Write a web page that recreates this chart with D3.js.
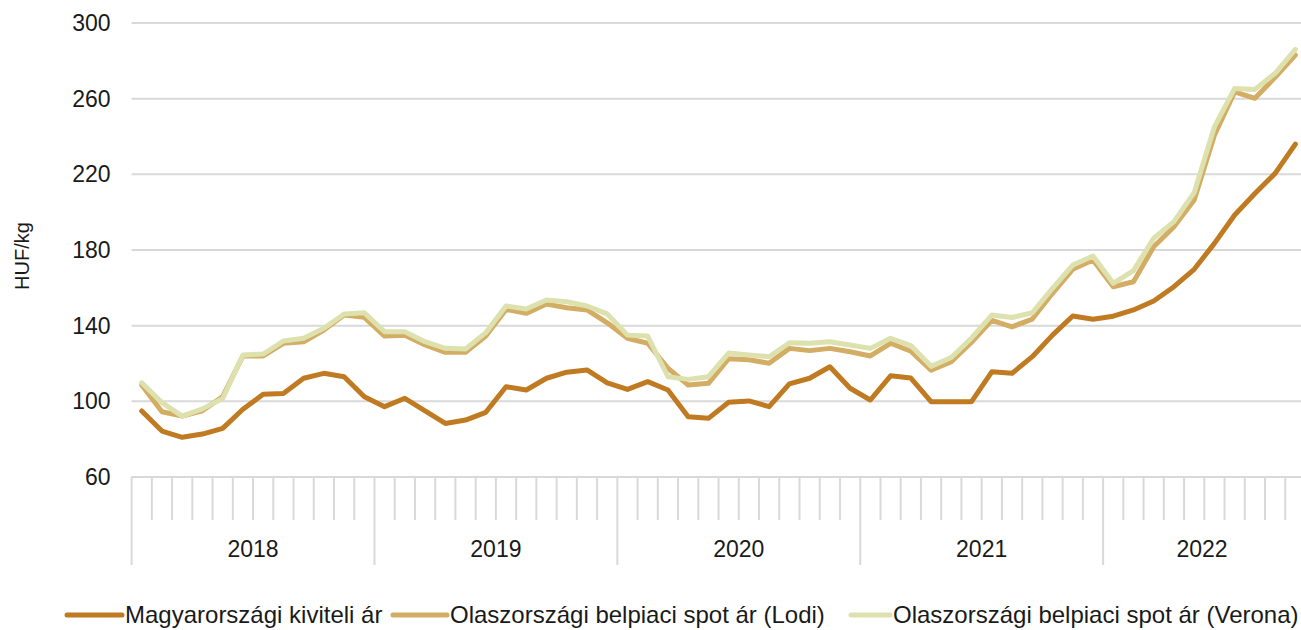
<!DOCTYPE html>
<html>
<head>
<meta charset="utf-8">
<script src="https://cdn.jsdelivr.net/npm/d3@7"></script>
<style>
  body { margin: 0; background: #fff; }
  text { font-family: "Liberation Sans", Arial, sans-serif; fill: #1a1a1a; }
</style>
</head>
<body>
<div class="svg-wrap"></div>
<script>
// chart data
let years = [2018, 2019, 2020, 2021, 2022];
let monthsInYear = [12, 12, 12, 12, 10];
let yTicks = [60, 100, 140, 180, 220, 260, 300];
let seriesNames = ["Magyarországi kiviteli ár", "Olaszországi belpiaci spot ár (Lodi)", "Olaszországi belpiaci spot ár (Verona)"];
let colors = ["#c07a22", "#d3ad63", "#dde1ae"];

let huExport = [94.9, 84.3, 81, 82.7, 85.7, 95.8, 103.7, 104.2, 112.2, 114.8, 113, 102.4,
  97.2, 101.6, 95, 88.3, 90.1, 94.2, 107.7, 106, 112.2, 115.4, 116.6, 109.8,
  106.3, 110.4, 106, 91.9, 91, 99.5, 100.2, 97.2, 109.2, 112.2, 118.3, 106.9,
  100.7, 113.5, 112.3, 99.8, 99.8, 99.8, 115.6, 114.8, 123.6, 135, 145.1, 143.4,
  145, 148.3, 153, 160.6, 169.8, 183.5, 198.5, 209.9, 220.5, 236];
let lodi = [108.6, 94.5, 92.2, 95, 102.5, 124, 124, 130.7, 131.5, 137.7, 145.6, 144.4,
  134.5, 134.9, 129.8, 125.9, 125.9, 134.5, 148.6, 146.5, 151.4, 149.5, 148.3, 141.5,
  133.3, 130.7, 117.5, 108.6, 109.5, 122.5, 122, 120.1, 128, 126.8, 128, 126.2,
  124, 130.7, 126.5, 116.5, 121, 131.2, 142.8, 139.4, 143.5, 157.1, 169.8, 174.7,
  160.6, 163.2, 181.7, 192.3, 206.4, 240.7, 263.6, 260.2, 271.3, 283];
let verona = [109.8, 99.3, 92.2, 96, 101.5, 124.5, 125, 131.9, 133.3, 138.6, 146.2, 146.8,
  136.8, 136.8, 131.5, 128, 127.7, 136.3, 150.4, 148.8, 153.6, 152.7, 150.4, 146.2,
  135, 134.5, 113, 111.6, 113, 125.5, 124.5, 123.6, 131, 130.7, 131.5, 129.8,
  128, 133.3, 129.5, 118.5, 123.2, 133.5, 145.6, 144.3, 146.8, 159.7, 172, 176.8,
  162.4, 169.1, 186.2, 195, 210.3, 245.1, 265.4, 264.9, 273.4, 286.1];

// month categories
let months = [];
years.forEach((y, i) => {
  for (let m = 1; m <= monthsInYear[i]; m++) months.push(y + "-" + m);
});

var width = 1301, height = 630;
var plot = { left: 131.6, right: 1305.5, top: 23, bottom: 477 };
var fontSize = "23px";

let svg = d3.select(".svg-wrap")
  .append("svg")
  .attr("width", width)
  .attr("height", height);

var scaleX = d3.scaleBand()
  .domain(months)
  .range([plot.left, plot.right]);

var scaleY = d3.scaleLinear()
  .domain([60, 300])
  .range([plot.bottom, plot.top]);

// horizontal gridlines
svg.append("g")
  .selectAll("line")
  .data(yTicks)
  .enter()
  .append("line")
  .attr("x1", plot.left)
  .attr("x2", plot.right)
  .attr("y1", d => scaleY(d))
  .attr("y2", d => scaleY(d))
  .attr("stroke", "#d9d9d9")
  .attr("stroke-width", 2);

// y axis labels
let yAxis = d3.axisLeft(scaleY).tickValues(yTicks).tickSize(0).tickPadding(21);
let gy = svg.append("g")
  .attr("transform", `translate(${plot.left},0)`)
  .call(yAxis);
gy.select(".domain").remove();
gy.selectAll("text").style("font-size", fontSize).attr("fill", "#1a1a1a");

svg.append("text")
  .attr("transform", "translate(29,256) rotate(-90)")
  .attr("text-anchor", "middle")
  .style("font-size", "20px")
  .text("HUF/kg");

// month ticks
let monthTicks = svg.append("g");
monthTicks.selectAll("line")
  .data(months)
  .enter()
  .append("line")
  .attr("x1", d => scaleX(d))
  .attr("x2", d => scaleX(d))
  .attr("y1", plot.bottom)
  .attr("y2", d => d.endsWith("-1") ? 565 : 520)
  .attr("stroke", "#d9d9d9")
  .attr("stroke-width", 2);

// year labels
let yearStart = [];
let idx = 0;
years.forEach((y, i) => { yearStart.push(idx); idx += monthsInYear[i]; });
svg.append("g")
  .selectAll("text")
  .data(years)
  .enter()
  .append("text")
  .attr("x", (d, i) => {
    let a = scaleX(months[yearStart[i]]);
    let b = i < years.length - 1 ? scaleX(months[yearStart[i + 1]]) : width;
    return (a + b) / 2;
  })
  .attr("y", 557)
  .attr("text-anchor", "middle")
  .style("font-size", fontSize)
  .text(d => d);

// lines
let allSeries = [huExport, lodi, verona];
let line = d3.line()
  .x((d, i) => scaleX(months[i]) + scaleX.bandwidth() / 2)
  .y(d => scaleY(d));

svg.append("g")
  .selectAll("path")
  .data(allSeries)
  .enter()
  .append("path")
  .attr("d", d => line(d))
  .attr("fill", "none")
  .attr("stroke", (d, i) => colors[i])
  .attr("stroke-width", 5)
  .attr("stroke-linejoin", "round")
  .attr("stroke-linecap", "round");

// legend
let legendX = [67, 393, 851];
let swatchLen = [55, 54, 39];
let legend = svg.append("g")
  .selectAll("g")
  .data(seriesNames)
  .enter()
  .append("g")
  .attr("transform", (d, i) => `translate(${legendX[i]},615)`);

legend.append("line")
  .attr("x1", 0)
  .attr("x2", (d, i) => swatchLen[i])
  .attr("stroke", (d, i) => colors[i])
  .attr("stroke-width", 5)
  .attr("stroke-linecap", "round");

legend.append("text")
  .attr("x", (d, i) => swatchLen[i] + 3)
  .attr("y", 8)
  .style("font-size", "24px")
  .text(d => d);
</script>
</body>
</html>
